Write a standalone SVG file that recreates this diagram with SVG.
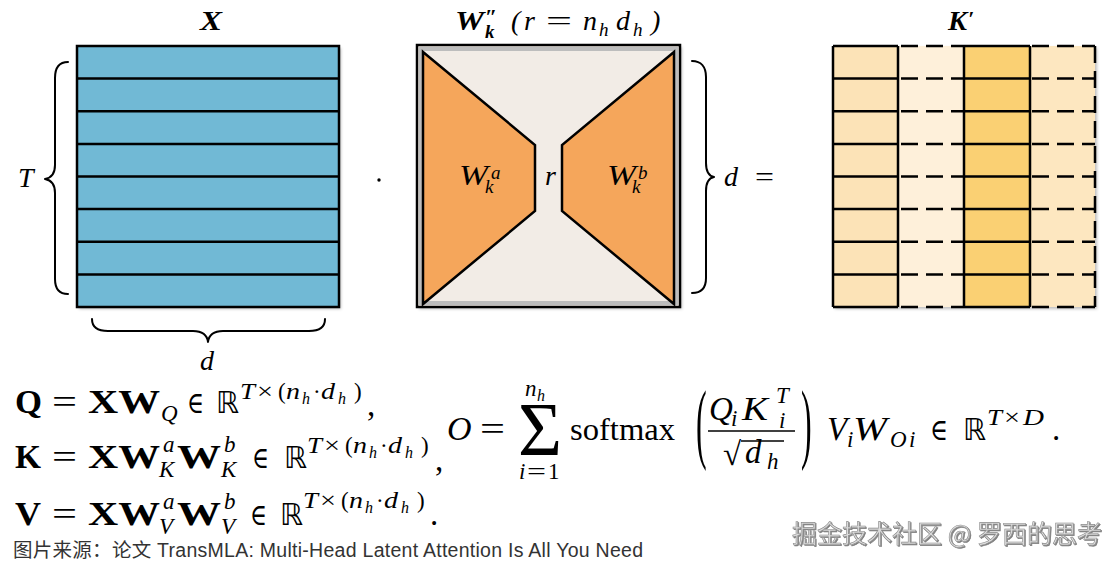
<svg xmlns="http://www.w3.org/2000/svg" width="1119" height="565" viewBox="0 0 1119 565">
<defs>
<style>
.m{font-family:"Liberation Serif","DejaVu Serif",serif;fill:#000}
.it{font-style:italic}
.bf{font-weight:bold}
.bb{font-family:"DejaVu Sans","DejaVu Serif",sans-serif;fill:#000}
.ln{stroke:#000;stroke-width:2.5;fill:none}
.dash{stroke:#000;stroke-width:2.5;fill:none;stroke-dasharray:17 8}
.brace{stroke:#000;stroke-width:2;fill:none;stroke-linecap:round;stroke-linejoin:round}
.cap{font-family:"Liberation Sans","Noto Sans CJK SC",sans-serif;fill:#333}
.wm{font-family:"Noto Sans CJK SC",sans-serif;fill:#dcdcdc;stroke:#8a8a8a;stroke-width:0.6}
</style>
<filter id="sh" x="-5%" y="-5%" width="115%" height="115%">
<feDropShadow dx="2" dy="2" stdDeviation="1.5" flood-color="#000" flood-opacity="0.25"/>
</filter>
<filter id="wsh" x="-5%" y="-20%" width="110%" height="150%">
<feDropShadow dx="1" dy="1" stdDeviation="0.6" flood-color="#444" flood-opacity="0.7"/>
</filter>
</defs>
<rect width="1119" height="565" fill="#fff"/>

<!-- Matrix X -->
<g id="matrix-X">
<text class="m it bf" x="200" y="30" font-size="27" textLength="22" lengthAdjust="spacingAndGlyphs">X</text>
<rect x="77" y="46" width="262" height="261" fill="#71B9D5" filter="url(#sh)"/>
<rect x="77" y="46" width="262" height="261" class="ln"/>
<path class="ln" d="M77,78.6H339M77,111.3H339M77,143.9H339M77,176.5H339M77,209.1H339M77,241.8H339M77,274.4H339"/>
</g>

<!-- Dot operator -->
<g id="dot">
<circle cx="379" cy="180" r="1.7" fill="#000"/>
</g>

<!-- Matrix W''k -->
<g id="matrix-W">
<text class="m it bf" x="455" y="30" font-size="27" textLength="29" lengthAdjust="spacingAndGlyphs">W</text>
<text class="m it bf" x="485" y="24" font-size="22">″</text>
<text class="m it bf" x="485" y="38" font-size="19">k</text>
<text class="m it" x="511" y="30" font-size="28">(</text>
<text class="m it" x="524" y="30" font-size="28">r</text>
<text class="m" x="546" y="30" font-size="28" textLength="26" lengthAdjust="spacingAndGlyphs">=</text>
<text class="m it" x="583" y="30" font-size="28">n</text>
<text class="m it" x="599" y="36" font-size="19">h</text>
<text class="m it" x="616" y="30" font-size="28">d</text>
<text class="m it" x="633" y="36" font-size="19">h</text>
<text class="m it" x="651" y="30" font-size="28">)</text>
<rect x="417" y="45" width="263" height="262" fill="#F2ECE6" filter="url(#sh)"/>
<rect x="421" y="49" width="255" height="254" fill="none" stroke="#BDBDBD" stroke-width="4"/>
<rect x="417" y="45" width="263" height="262" fill="none" stroke="#000" stroke-width="2.5"/>
<polygon points="423,52 535,145 535,211 423,304" fill="#F5A65B" stroke="#000" stroke-width="2.5" stroke-linejoin="miter"/>
<polygon points="674,52 562,145 562,211 674,304" fill="#F5A65B" stroke="#000" stroke-width="2.5" stroke-linejoin="miter"/>
<text class="m it" x="459" y="185" font-size="29" textLength="29" lengthAdjust="spacingAndGlyphs">W</text>
<text class="m it" x="491" y="179" font-size="19">a</text>
<text class="m it" x="485" y="193" font-size="19">k</text>
<text class="m it" x="545" y="185" font-size="28">r</text>
<text class="m it" x="607" y="185" font-size="29" textLength="29" lengthAdjust="spacingAndGlyphs">W</text>
<text class="m it" x="638" y="179" font-size="19">b</text>
<text class="m it" x="632" y="193" font-size="19">k</text>
</g>

<!-- Matrix K' -->
<g id="matrix-K">
<text class="m it bf" x="948" y="30" font-size="27" textLength="19" lengthAdjust="spacingAndGlyphs">K</text>
<text class="m it bf" x="968" y="26" font-size="22">′</text>
<g filter="url(#sh)">
<rect x="833" y="46" width="65" height="261" fill="#FCE3B7"/>
<rect x="898" y="46" width="66" height="261" fill="#FEF0DA"/>
<rect x="964" y="46" width="66" height="261" fill="#FAD073"/>
<rect x="1030" y="46" width="65" height="261" fill="#FDE7C0"/>
</g>
<path class="ln" d="M833,46H898M833,78.6H898M833,111.3H898M833,143.9H898M833,176.5H898M833,209.1H898M833,241.8H898M833,274.4H898M833,307H898"/>
<path class="ln" d="M964,46H1030M964,78.6H1030M964,111.3H1030M964,143.9H1030M964,176.5H1030M964,209.1H1030M964,241.8H1030M964,274.4H1030M964,307H1030"/>
<path class="dash" d="M901,46H964M901,78.6H964M901,111.3H964M901,143.9H964M901,176.5H964M901,209.1H964M901,241.8H964M901,274.4H964M901,307H964"/>
<path class="dash" d="M1032,46H1095M1032,78.6H1095M1032,111.3H1095M1032,143.9H1095M1032,176.5H1095M1032,209.1H1095M1032,241.8H1095M1032,274.4H1095M1032,307H1095"/>
<path class="ln" d="M833,46V307M898,46V307M964,46V307M1030,46V307"/>
<path class="dash" d="M1095,46V307"/>
</g>

<!-- Braces and dimension labels -->
<g id="braces">
<path class="brace" d="M68,62 C59,62 55,68 55,78 L55,165 C55,174 51,178 45,179 C51,180 55,184 55,193 L55,279 C55,289 59,294 68,294"/>
<path class="brace" d="M692,61 C701,61 706,67 706,77 L706,163 C706,172 709,176 714,177 C709,178 706,182 706,191 L706,278 C706,288 701,293 692,293"/>
<path class="brace" d="M92,319 C92,327 98,331 108,331 L193,331 C202,331 207,334 208,342 C209,334 214,331 223,331 L309,331 C319,331 325,327 325,319"/>
<text class="m it" x="18" y="187" font-size="28">T</text>
<text class="m it" x="200" y="370" font-size="28">d</text>
<text class="m it" x="724" y="186" font-size="28">d</text>
<text class="m" x="755" y="186" font-size="28" textLength="19" lengthAdjust="spacingAndGlyphs">=</text>
</g>

<!-- Connectors (none in this figure) -->
<g id="connectors"></g>

<!-- Left formulas -->
<g id="formula-QKV">
<!-- Q line -->
<text class="m bf" x="15" y="413" font-size="33" textLength="27" lengthAdjust="spacingAndGlyphs">Q</text>
<text class="m" x="52" y="413" font-size="33" textLength="25" lengthAdjust="spacingAndGlyphs">=</text>
<text class="m bf" x="88" y="413" font-size="33" textLength="72" lengthAdjust="spacingAndGlyphs">XW</text>
<text class="m it" x="161" y="421" font-size="23">Q</text>
<text class="m" x="187" y="413" font-size="30" textLength="17" lengthAdjust="spacingAndGlyphs">∈</text>
<text class="bb" x="216" y="413" font-size="30" textLength="23" lengthAdjust="spacingAndGlyphs">ℝ</text>
<g>
<text class="m it" x="240" y="399" font-size="23" textLength="15" lengthAdjust="spacingAndGlyphs">T</text>
<text class="m" x="257" y="399" font-size="23" textLength="16" lengthAdjust="spacingAndGlyphs">×</text>
<text class="m" x="278" y="399" font-size="23">(</text>
<text class="m it" x="286" y="399" font-size="23" textLength="14" lengthAdjust="spacingAndGlyphs">n</text>
<text class="m it" x="302" y="404" font-size="16">h</text>
<text class="m" x="313" y="399" font-size="23">·</text>
<text class="m it" x="321" y="399" font-size="23" textLength="14" lengthAdjust="spacingAndGlyphs">d</text>
<text class="m it" x="338" y="404" font-size="16">h</text>
<text class="m" x="354" y="399" font-size="23">)</text>
</g>
<text class="m" x="367" y="416" font-size="33">,</text>
<!-- K line -->
<text class="m bf" x="15" y="468" font-size="33" textLength="26" lengthAdjust="spacingAndGlyphs">K</text>
<text class="m" x="52" y="468" font-size="33" textLength="25" lengthAdjust="spacingAndGlyphs">=</text>
<text class="m bf" x="88" y="468" font-size="33" textLength="72" lengthAdjust="spacingAndGlyphs">XW</text>
<text class="m it" x="163" y="452" font-size="23">a</text>
<text class="m it" x="159" y="477" font-size="23">K</text>
<text class="m bf" x="177" y="468" font-size="33" textLength="44" lengthAdjust="spacingAndGlyphs">W</text>
<text class="m it" x="224" y="452" font-size="23">b</text>
<text class="m it" x="221" y="477" font-size="23">K</text>
<text class="m" x="252" y="468" font-size="30" textLength="17" lengthAdjust="spacingAndGlyphs">∈</text>
<text class="bb" x="284" y="468" font-size="30" textLength="23" lengthAdjust="spacingAndGlyphs">ℝ</text>
<g transform="translate(67,54)">
<text class="m it" x="240" y="399" font-size="23" textLength="15" lengthAdjust="spacingAndGlyphs">T</text>
<text class="m" x="257" y="399" font-size="23" textLength="16" lengthAdjust="spacingAndGlyphs">×</text>
<text class="m" x="278" y="399" font-size="23">(</text>
<text class="m it" x="286" y="399" font-size="23" textLength="14" lengthAdjust="spacingAndGlyphs">n</text>
<text class="m it" x="302" y="404" font-size="16">h</text>
<text class="m" x="313" y="399" font-size="23">·</text>
<text class="m it" x="321" y="399" font-size="23" textLength="14" lengthAdjust="spacingAndGlyphs">d</text>
<text class="m it" x="338" y="404" font-size="16">h</text>
<text class="m" x="354" y="399" font-size="23">)</text>
</g>
<text class="m" x="435" y="471" font-size="33">,</text>
<!-- V line -->
<text class="m bf" x="15" y="525" font-size="33" textLength="26" lengthAdjust="spacingAndGlyphs">V</text>
<text class="m" x="52" y="525" font-size="33" textLength="25" lengthAdjust="spacingAndGlyphs">=</text>
<text class="m bf" x="88" y="525" font-size="33" textLength="72" lengthAdjust="spacingAndGlyphs">XW</text>
<text class="m it" x="163" y="509" font-size="23">a</text>
<text class="m it" x="159" y="534" font-size="23">V</text>
<text class="m bf" x="177" y="525" font-size="33" textLength="44" lengthAdjust="spacingAndGlyphs">W</text>
<text class="m it" x="224" y="509" font-size="23">b</text>
<text class="m it" x="221" y="534" font-size="23">V</text>
<text class="m" x="250" y="525" font-size="30" textLength="17" lengthAdjust="spacingAndGlyphs">∈</text>
<text class="bb" x="280" y="525" font-size="30" textLength="23" lengthAdjust="spacingAndGlyphs">ℝ</text>
<g transform="translate(63,109)">
<text class="m it" x="240" y="399" font-size="23" textLength="15" lengthAdjust="spacingAndGlyphs">T</text>
<text class="m" x="257" y="399" font-size="23" textLength="16" lengthAdjust="spacingAndGlyphs">×</text>
<text class="m" x="278" y="399" font-size="23">(</text>
<text class="m it" x="286" y="399" font-size="23" textLength="14" lengthAdjust="spacingAndGlyphs">n</text>
<text class="m it" x="302" y="404" font-size="16">h</text>
<text class="m" x="313" y="399" font-size="23">·</text>
<text class="m it" x="321" y="399" font-size="23" textLength="14" lengthAdjust="spacingAndGlyphs">d</text>
<text class="m it" x="338" y="404" font-size="16">h</text>
<text class="m" x="354" y="399" font-size="23">)</text>
</g>
<text class="m" x="430" y="525" font-size="33">.</text>
</g>

<!-- Right formula -->
<g id="formula-O">
<text class="m it" x="447" y="440" font-size="34">O</text>
<text class="m" x="480" y="440" font-size="33" textLength="25" lengthAdjust="spacingAndGlyphs">=</text>
<text class="m" x="518" y="455" font-size="76" textLength="44" lengthAdjust="spacingAndGlyphs">Σ</text>
<text class="m it" x="525" y="396" font-size="23">n</text>
<text class="m it" x="537" y="401" font-size="16">h</text>
<text class="m it" x="519" y="479" font-size="23">i</text>
<text class="m" x="527" y="479" font-size="23" textLength="19" lengthAdjust="spacingAndGlyphs">=</text>
<text class="m" x="548" y="479" font-size="23">1</text>
<text class="m" x="570" y="440" font-size="32" textLength="105" lengthAdjust="spacingAndGlyphs">softmax</text>
<text class="m" transform="translate(696,452) scale(1,2.8)" font-size="32">(</text>
<text class="m it" x="709" y="420" font-size="33">Q</text>
<text class="m it" x="731" y="426" font-size="23">i</text>
<text class="m it" x="742" y="420" font-size="33" textLength="26" lengthAdjust="spacingAndGlyphs">K</text>
<text class="m it" x="776" y="403" font-size="23">T</text>
<text class="m it" x="779" y="428" font-size="23">i</text>
<line x1="708" y1="431" x2="795" y2="431" stroke="#000" stroke-width="1.4"/>
<text class="m" x="723" y="465" font-size="33">√</text>
<line x1="741" y1="441" x2="784" y2="441" stroke="#000" stroke-width="1.4"/>
<text class="m it" x="745" y="463" font-size="33">d</text>
<text class="m it" x="767" y="469" font-size="23">h</text>
<text class="m" transform="translate(801,452) scale(1,2.8)" font-size="32">)</text>
<text class="m it" x="827" y="440" font-size="33">V</text>
<text class="m it" x="847" y="447" font-size="23">i</text>
<text class="m it" x="853" y="440" font-size="33" textLength="34" lengthAdjust="spacingAndGlyphs">W</text>
<text class="m it" x="890" y="447" font-size="23">O</text>
<text class="m it" x="909" y="447" font-size="23">i</text>
<text class="m" x="930" y="440" font-size="30" textLength="18" lengthAdjust="spacingAndGlyphs">∈</text>
<text class="bb" x="963" y="440" font-size="30" textLength="23" lengthAdjust="spacingAndGlyphs">ℝ</text>
<text class="m it" x="987" y="425" font-size="23" textLength="15" lengthAdjust="spacingAndGlyphs">T</text>
<text class="m" x="1004" y="425" font-size="23" textLength="16" lengthAdjust="spacingAndGlyphs">×</text>
<text class="m it" x="1023" y="425" font-size="23" textLength="21" lengthAdjust="spacingAndGlyphs">D</text>
<text class="m" x="1052" y="440" font-size="33">.</text>
</g>

<!-- Caption and watermark -->
<g id="caption">
<text class="cap" x="13" y="557" font-size="19.5" textLength="630" lengthAdjust="spacing">图片来源：论文 TransMLA: Multi-Head Latent Attention Is All You Need</text>
</g>
<g id="watermark">
<text class="wm" x="792" y="543" font-size="25" filter="url(#wsh)" textLength="310" lengthAdjust="spacing">掘金技术社区 @ 罗西的思考</text>
</g>
</svg>
